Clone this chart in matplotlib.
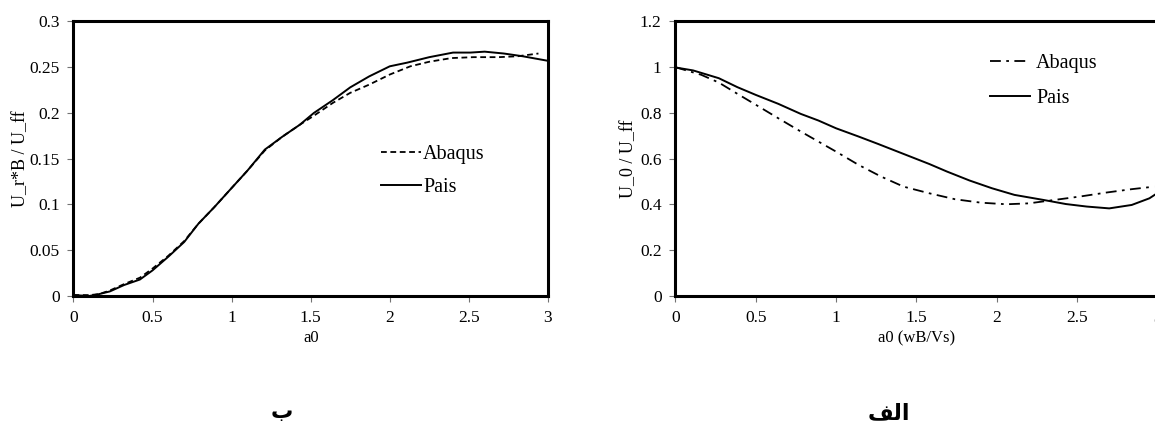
import matplotlib
matplotlib.use("Agg")
import matplotlib.pyplot as plt

# left panel (ب): U_r*B / U_ff
left_pais_x = [0, 0.1, 0.16, 0.23, 0.32, 0.42, 0.5, 0.6, 0.7, 0.79, 0.89, 1.0, 1.1, 1.21, 1.32,
               1.43, 1.52, 1.64, 1.75, 1.87, 2.0, 2.11, 2.25, 2.4, 2.51, 2.6, 2.72, 2.84, 3.0]
left_pais_y = [0.001, 0.0, 0.002, 0.005, 0.012, 0.018, 0.028, 0.043, 0.059, 0.079, 0.097, 0.118,
               0.137, 0.160, 0.174, 0.187, 0.200, 0.214, 0.228, 0.240, 0.251, 0.255, 0.261, 0.266,
               0.266, 0.267, 0.265, 0.262, 0.257]
left_abaqus_x = [0, 0.1, 0.16, 0.23, 0.32, 0.42, 0.5, 0.6, 0.7, 0.79, 0.89, 1.0, 1.1, 1.21, 1.32,
                 1.43, 1.52, 1.64, 1.75, 1.87, 2.0, 2.13, 2.25, 2.39, 2.53, 2.69, 2.81, 2.94]
left_abaqus_y = [0.001, 0.001, 0.002, 0.006, 0.013, 0.020, 0.030, 0.044, 0.060, 0.079, 0.097,
                 0.118, 0.137, 0.159, 0.174, 0.187, 0.197, 0.211, 0.222, 0.231, 0.242, 0.251,
                 0.256, 0.260, 0.261, 0.261, 0.262, 0.265]

# right panel (الف): U_0 / U_ff
right_pais_x = [0, 0.11, 0.27, 0.385, 0.5, 0.64, 0.78, 0.89, 1.0, 1.14, 1.26, 1.42, 1.58, 1.69,
                1.83, 1.97, 2.11, 2.29, 2.43, 2.56, 2.70, 2.84, 2.95, 3.0]
right_pais_y = [0.999, 0.986, 0.952, 0.913, 0.879, 0.840, 0.796, 0.767, 0.733, 0.697, 0.665,
                0.621, 0.577, 0.544, 0.505, 0.471, 0.442, 0.420, 0.402, 0.391, 0.383, 0.398,
                0.427, 0.45]
right_abaqus_x = [0, 0.16, 0.27, 0.385, 0.5, 0.64, 0.78, 0.89, 1.0, 1.14, 1.28, 1.42, 1.58, 1.74,
                  1.90, 2.06, 2.20, 2.36, 2.52, 2.68, 2.84, 2.98]
right_abaqus_y = [1.0, 0.967, 0.933, 0.884, 0.836, 0.777, 0.719, 0.675, 0.631, 0.573, 0.522,
                  0.478, 0.449, 0.423, 0.408, 0.401, 0.405, 0.420, 0.435, 0.452, 0.467, 0.478]

x_ticks = [0, 0.5, 1, 1.5, 2, 2.5, 3]
x_tick_labels = ["0", "0.5", "1", "1.5", "2", "2.5", "3"]
left_y_ticks = [0, 0.05, 0.1, 0.15, 0.2, 0.25, 0.3]
left_y_labels = ["0", "0.05", "0.1", "0.15", "0.2", "0.25", "0.3"]
right_y_ticks = [0, 0.2, 0.4, 0.6, 0.8, 1.0, 1.2]
right_y_labels = ["0", "0.2", "0.4", "0.6", "0.8", "1", "1.2"]

plt.rcParams["font.family"] = ["Liberation Serif", "DejaVu Serif"]


def style_axes(ax, yticks, ylabels, ymax):
    ax.set_xlim(0, 3)
    ax.set_ylim(0, ymax)
    ax.set_xticks(x_ticks)
    ax.set_xticklabels(x_tick_labels)
    ax.set_yticks(yticks)
    ax.set_yticklabels(ylabels)
    ax.tick_params(direction="out", length=4, width=0.8, color="0.45", labelsize=12.5, pad=6)
    for s in ax.spines.values():
        s.set_linewidth(2.2)


fig = plt.figure(figsize=(11.55, 4.25), dpi=100)

ax1 = fig.add_axes([0.0636, 0.3035, 0.4108, 0.646])
ax1.plot(left_abaqus_x, left_abaqus_y, color="black", lw=1.3, ls=(0, (3.2, 2)), label="Abaqus")
ax1.plot(left_pais_x, left_pais_y, color="black", lw=1.4, label="Pais")
style_axes(ax1, left_y_ticks, left_y_labels, 0.3)
ax1.set_xlabel("a0", fontsize=12, labelpad=3)
ax1.set_ylabel("U_r*B / U_ff", fontsize=13, labelpad=0)
ax1.legend(loc="center left", bbox_to_anchor=(0.648, 0.455), frameon=False, fontsize=14.5,
           handlelength=2.0, handletextpad=0.1, labelspacing=0.7, borderpad=0, borderaxespad=0)

ax2 = fig.add_axes([0.5848, 0.3035, 0.4173, 0.646])
ax2.plot(right_abaqus_x, right_abaqus_y, color="black", lw=1.3, ls=(0, (6, 3, 1.5, 3)), label="Abaqus")
ax2.plot(right_pais_x, right_pais_y, color="black", lw=1.4, label="Pais")
style_axes(ax2, right_y_ticks, right_y_labels, 1.2)
ax2.set_xlabel("a0 (wB/Vs)", fontsize=12, labelpad=3)
ax2.set_ylabel("U_0 / U_ff", fontsize=13, labelpad=2)
ax2.legend(loc="center left", bbox_to_anchor=(0.652, 0.783), frameon=False, fontsize=14.5,
           handlelength=2.0, handletextpad=0.3, labelspacing=0.75, borderpad=0, borderaxespad=0)

# panel captions (Persian), shaped by hand since matplotlib does no Arabic shaping
fig.text(282 / 1155, 1 - 412 / 425, "\u0628", ha="center", va="center", fontsize=16,
         family=["DejaVu Sans"], weight="bold")
fig.text(889 / 1155, 1 - 413 / 425, "\uFED2\uFEDF\u0627", ha="center", va="center", fontsize=16,
         family=["DejaVu Sans"], weight="bold")

fig.savefig("out.png", dpi=100)
